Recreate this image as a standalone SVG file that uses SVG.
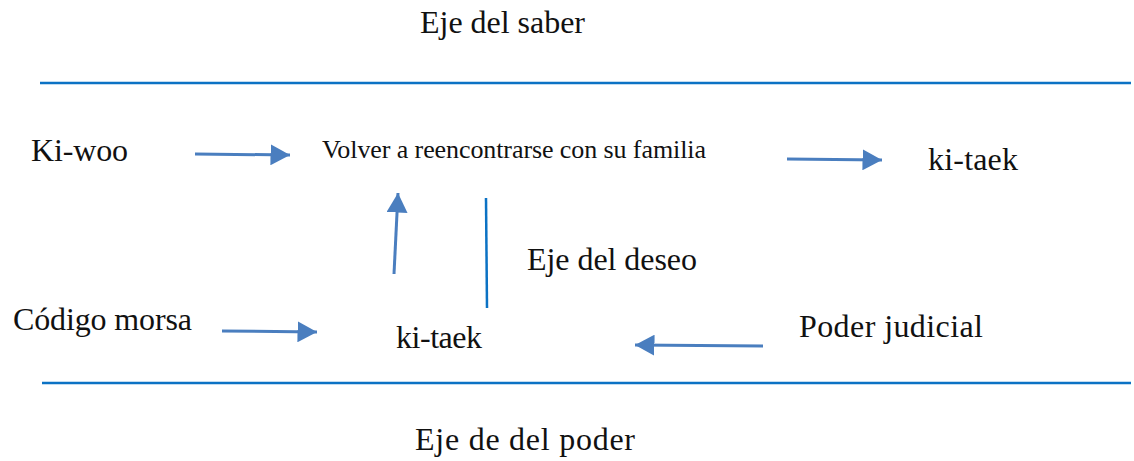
<svg xmlns="http://www.w3.org/2000/svg" width="1134" height="461" viewBox="0 0 1134 461">
<defs>
<style>
.t{font-family:"Liberation Serif","Times New Roman",serif;font-size:32px;fill:#111}
.s{font-size:26px}
.ax{stroke:#0b72c4;stroke-width:2.5;fill:none}
.ar{stroke:#4a7ebf;stroke-width:3;fill:none;marker-end:url(#ah)}
</style>
<marker id="ah" markerWidth="6.5" markerHeight="7" refX="6.5" refY="3.5" orient="auto" markerUnits="strokeWidth">
<path d="M0,0 L6.5,3.5 L0,7 Z" fill="#4a7ebf"/>
</marker>
</defs>
<rect width="1134" height="461" fill="#fff"/>
<g id="axes">
<line class="ax" x1="40" y1="83" x2="1131" y2="83"/>
<line class="ax" x1="42" y1="383" x2="1131" y2="383"/>
<line class="ax" x1="486" y1="198" x2="487" y2="308"/>
</g>
<g id="connectors">
<line class="ar" x1="195" y1="154" x2="290" y2="155"/>
<line class="ar" x1="787" y1="159" x2="882" y2="160"/>
<line class="ar" x1="394" y1="274" x2="398" y2="193"/>
<line class="ar" x1="222" y1="331" x2="317" y2="332"/>
<line class="ar" x1="763" y1="346" x2="635" y2="345"/>
</g>
<g id="n-saber"><text class="t" x="420" y="33" textLength="165">Eje del saber</text></g>
<g id="n-kiwoo"><text class="t" x="31" y="161" textLength="97">Ki-woo</text></g>
<g id="n-volver"><text class="t s" x="322" y="158" textLength="384">Volver a reencontrarse con su familia</text></g>
<g id="n-kitaek1"><text class="t" x="928" y="170" textLength="90">ki-taek</text></g>
<g id="n-deseo"><text class="t" x="527" y="270" textLength="170">Eje del deseo</text></g>
<g id="n-morsa"><text class="t" x="13" y="330" textLength="179">Código morsa</text></g>
<g id="n-kitaek2"><text class="t" x="396" y="348" textLength="86">ki-taek</text></g>
<g id="n-poder-j"><text class="t" x="799" y="337" textLength="184">Poder judicial</text></g>
<g id="n-poder"><text class="t" x="415" y="450" textLength="220">Eje de del poder</text></g>
</svg>
